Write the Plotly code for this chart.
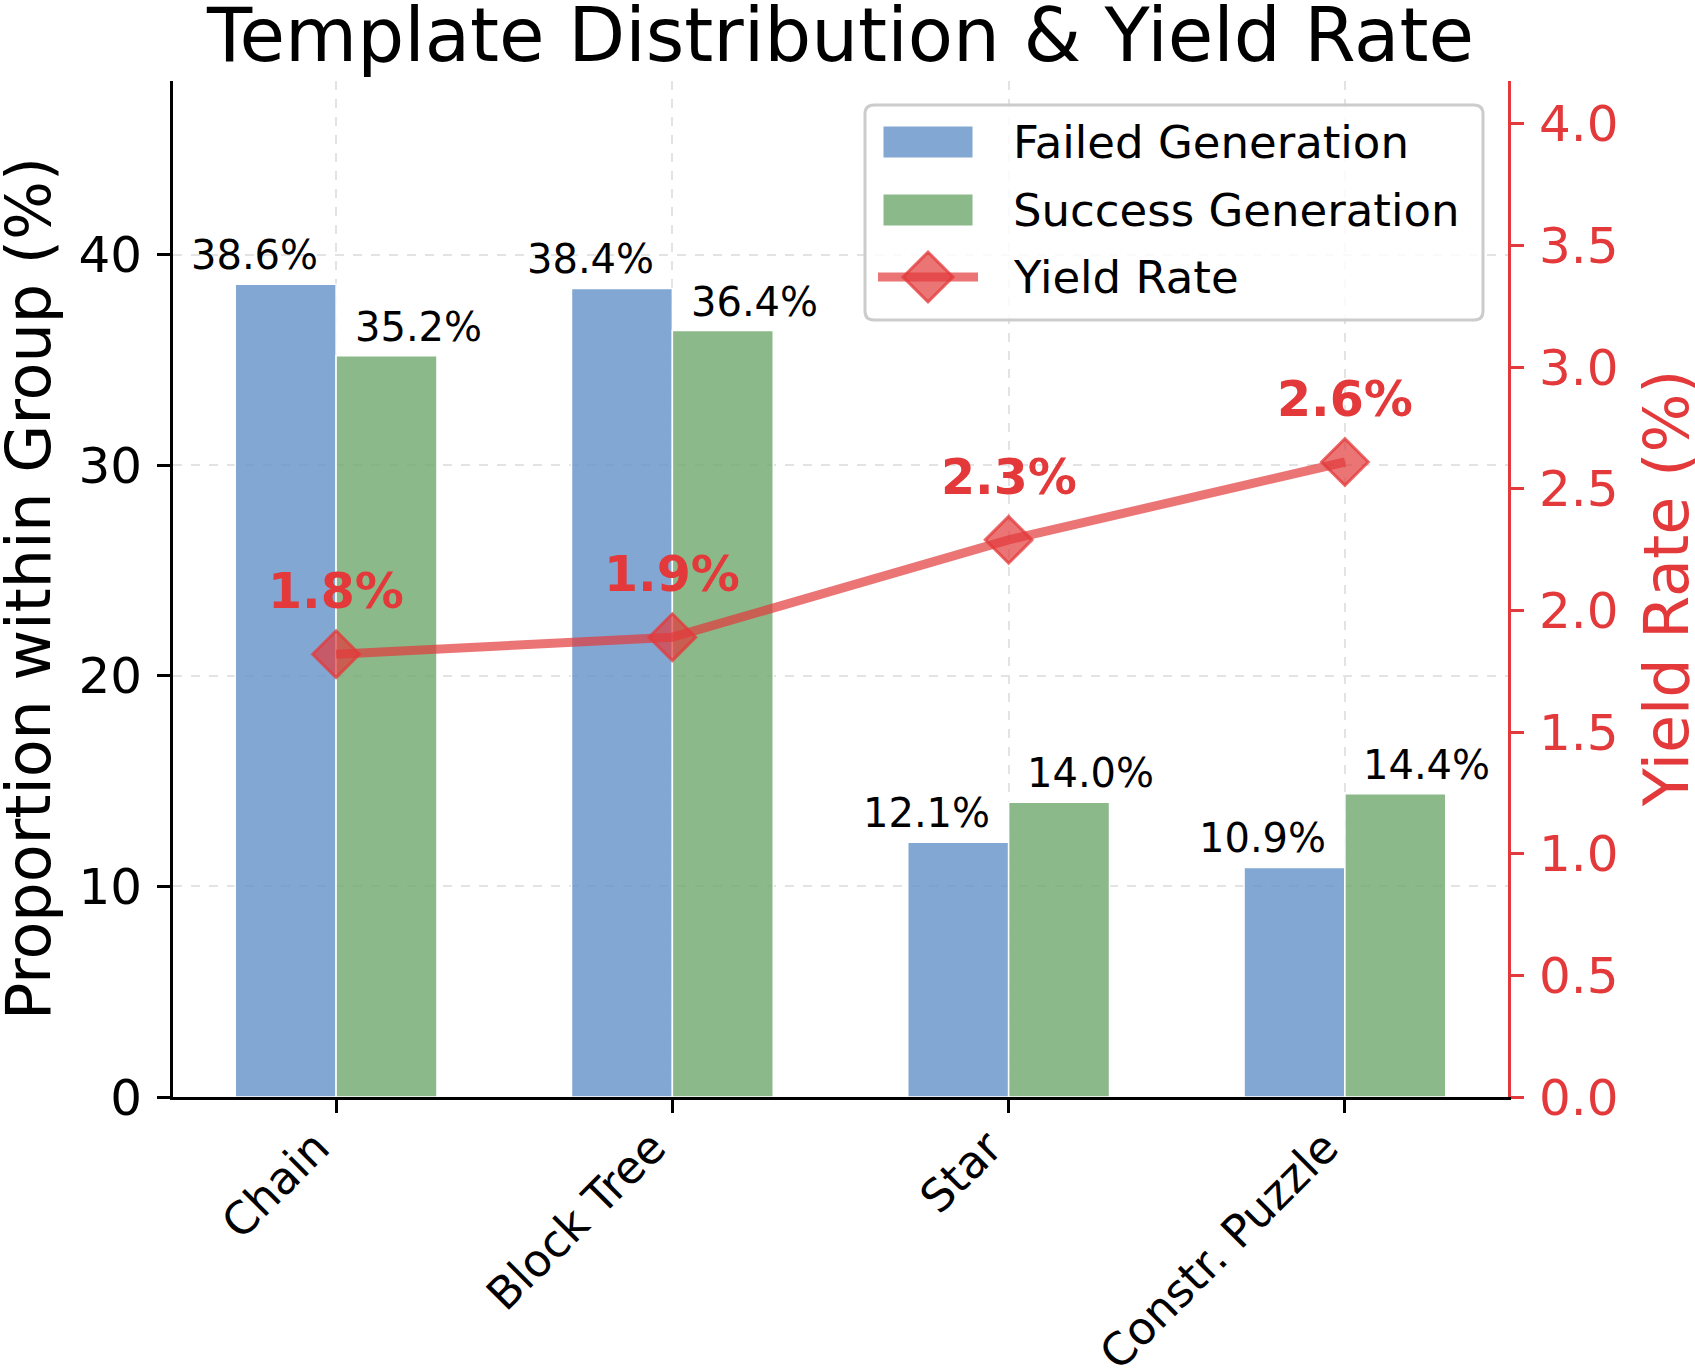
import plotly.graph_objects as go

categories = ["Chain", "Block Tree", "Star", "Constr. Puzzle"]
failed = [38.6, 38.4, 12.1, 10.9]
success = [35.2, 36.4, 14.0, 14.4]
yield_rate = [1.82, 1.89, 2.29, 2.61]
series_names = ["Failed Generation", "Success Generation", "Yield Rate"]
left_title = "Proportion within Group (%)"
right_title = "Yield Rate (%)"

FONT = "DejaVu Sans"
RED = "#e3393a"
BLUE = "rgba(99,145,200,0.8)"
GREEN = "rgba(110,168,109,0.8)"
LINE_RED = "rgba(227,57,58,0.7)"

fig = go.Figure()
fig.add_trace(go.Bar(x=categories, y=failed, name=series_names[0], showlegend=False,
                     marker=dict(color=BLUE, line=dict(color="white", width=1.5))))
fig.add_trace(go.Bar(x=categories, y=success, name=series_names[1], showlegend=False,
                     marker=dict(color=GREEN, line=dict(color="white", width=1.5))))
fig.add_trace(go.Scatter(x=categories, y=yield_rate, name=series_names[2], yaxis="y2",
                         mode="lines+markers", showlegend=False,
                         line=dict(color=LINE_RED, width=9),
                         marker=dict(symbol="diamond", size=36, color=LINE_RED,
                                     line=dict(color="rgba(227,57,58,0.75)", width=3))))

ann = []
for c, v in zip(categories, failed):
    ann.append(dict(x=c, y=v, xref="x", yref="y", text=f"{v:.1f}%", showarrow=False,
                    xshift=-82, yshift=4, yanchor="bottom",
                    font=dict(family=FONT, size=40, color="black")))
for c, v in zip(categories, success):
    ann.append(dict(x=c, y=v, xref="x", yref="y", text=f"{v:.1f}%", showarrow=False,
                    xshift=82, yshift=4, yanchor="bottom",
                    font=dict(family=FONT, size=40, color="black")))
for c, v in zip(categories, yield_rate):
    ann.append(dict(x=c, y=v, xref="x", yref="y2", text=f"<b>{v:.1f}%</b>", showarrow=False,
                    yshift=32, yanchor="bottom",
                    font=dict(family=FONT, size=49, color=RED)))

# ---- pixel -> paper helpers for layout decorations ----
L = 173
T = 81
PW = 1335
PH = 1016
def px(x):
    return (x - L) / PW
def py(y):
    return (T + PH - y) / PH

# axis titles as annotations (placed outside the plot area like matplotlib)
ann.append(dict(x=px(28), y=0.5, xref="paper", yref="paper", text=left_title,
                textangle=-90, showarrow=False, xanchor="center", yanchor="middle",
                font=dict(family=FONT, size=62, color="black")))
ann.append(dict(x=px(1666), y=0.5, xref="paper", yref="paper", text=right_title,
                textangle=-90, showarrow=False, xanchor="center", yanchor="middle",
                font=dict(family=FONT, size=62, color=RED)))

# ---- custom legend (matplotlib-style patches) ----
shapes = []
bx0, bx1, by0, by1, r = 865, 1483, 105, 320, 9
path = (f"M {px(bx0 + r)},{py(by0)} L {px(bx1 - r)},{py(by0)} "
        f"Q {px(bx1)},{py(by0)} {px(bx1)},{py(by0 + r)} "
        f"L {px(bx1)},{py(by1 - r)} Q {px(bx1)},{py(by1)} {px(bx1 - r)},{py(by1)} "
        f"L {px(bx0 + r)},{py(by1)} Q {px(bx0)},{py(by1)} {px(bx0)},{py(by1 - r)} "
        f"L {px(bx0)},{py(by0 + r)} Q {px(bx0)},{py(by0)} {px(bx0 + r)},{py(by0)} Z")
shapes.append(dict(type="path", xref="paper", yref="paper", path=path,
                   fillcolor="rgba(255,255,255,0.8)", line=dict(color="#cccccc", width=3)))
row_y = [142, 210, 277]
shapes.append(dict(type="rect", xref="paper", yref="paper",
                   x0=px(883), x1=px(973), y0=py(row_y[0] - 16), y1=py(row_y[0] + 16),
                   fillcolor=BLUE, line=dict(color="white", width=1)))
shapes.append(dict(type="rect", xref="paper", yref="paper",
                   x0=px(883), x1=px(973), y0=py(row_y[1] - 16), y1=py(row_y[1] + 16),
                   fillcolor=GREEN, line=dict(color="white", width=1)))
shapes.append(dict(type="line", xref="paper", yref="paper",
                   x0=px(878), x1=px(978), y0=py(row_y[2]), y1=py(row_y[2]),
                   line=dict(color=LINE_RED, width=9)))
cx, cy, h = 928, row_y[2], 25
shapes.append(dict(type="path", xref="paper", yref="paper",
                   path=(f"M {px(cx)},{py(cy - h)} L {px(cx + h)},{py(cy)} "
                         f"L {px(cx)},{py(cy + h)} L {px(cx - h)},{py(cy)} Z"),
                   fillcolor=LINE_RED, line=dict(color="rgba(227,57,58,0.75)", width=3)))
for name, yy in zip(series_names, row_y):
    ann.append(dict(x=px(1011), y=py(yy), xref="paper", yref="paper", text=name,
                    showarrow=False, xanchor="left", yanchor="middle",
                    font=dict(family=FONT, size=45, color="black")))

fig.update_layout(
    width=1695, height=1371,
    margin=dict(l=173, r=187, t=81, b=274, autoexpand=False),
    paper_bgcolor="white", plot_bgcolor="white",
    font=dict(family=FONT, color="black"),
    barmode="group", bargap=0.4, bargroupgap=0,
    title=dict(text="Template Distribution & Yield Rate", x=0.5, xref="paper", xanchor="center",
               y=0.993, yref="container", yanchor="top", pad=dict(t=0, b=0),
               font=dict(family=FONT, size=74, color="black")),
    xaxis=dict(range=[-0.485, 3.485], showline=True, linecolor="black", linewidth=3,
               automargin=False,
               ticks="outside", ticklen=13, tickwidth=2.5, tickcolor="black",
               tickangle=-45, ticklabelstandoff=-10, ticklabelshift=-20,
               tickfont=dict(family=FONT, size=45, color="black"),
               showgrid=True, gridcolor="#e3e3e3", gridwidth=2, griddash="dash",
               zeroline=False),
    yaxis=dict(range=[0, 48.25], dtick=10, showline=True, linecolor="black", linewidth=3,
               automargin=False,
               ticks="outside", ticklen=13, tickwidth=2.5, tickcolor="black",
               ticklabelstandoff=5,
               tickfont=dict(family=FONT, size=50, color="black"),
               showgrid=True, gridcolor="#e3e3e3", gridwidth=2, griddash="dash",
               zeroline=False),
    yaxis2=dict(range=[0, 4.176], dtick=0.5, tickformat=".1f", overlaying="y", side="right",
                automargin=False,
                showline=True, linecolor=RED, linewidth=3,
                ticks="outside", ticklen=13, tickwidth=2.5, tickcolor=RED,
                ticklabelstandoff=5,
                tickfont=dict(family=FONT, size=50, color=RED),
                showgrid=False, zeroline=False),
    annotations=ann,
    shapes=shapes,
    showlegend=False,
)

fig.write_html("out.html")
